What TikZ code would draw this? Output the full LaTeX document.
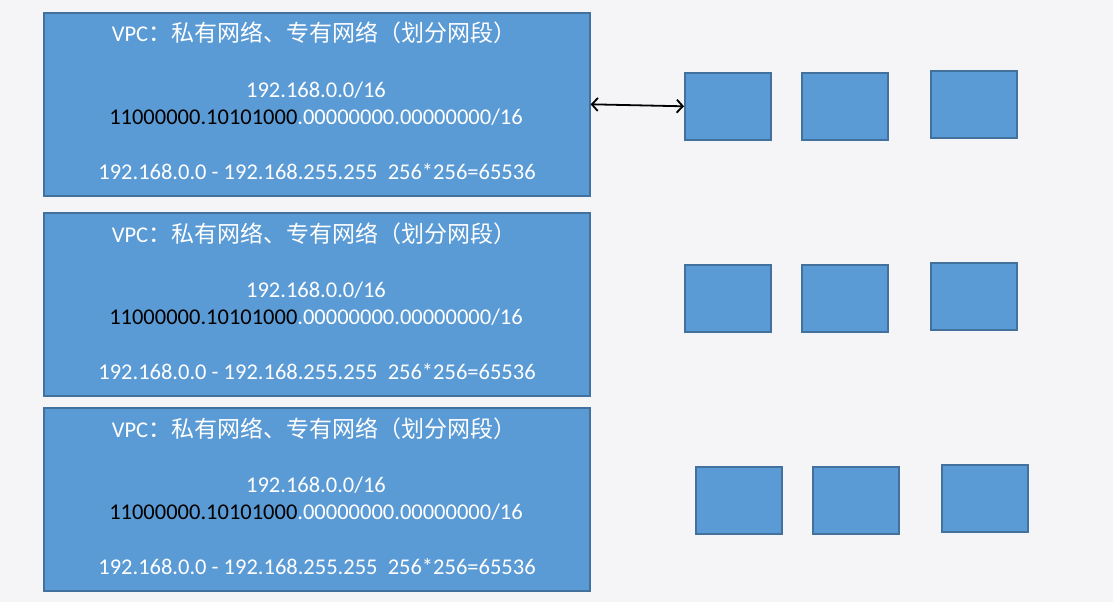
\documentclass[tikz,border=0pt]{standalone}
\usepackage{fontspec}
\setmainfont{Carlito}
\newfontfamily\cjk{Noto Sans CJK SC}
\usetikzlibrary{arrows.meta}
\definecolor{vpcfill}{RGB}{91,155,213}
\definecolor{vpcedge}{RGB}{65,113,156}
\definecolor{slide}{RGB}{245,245,247}

\begin{document}
\begin{tikzpicture}
    [ x=1pt, y=-1pt,
      font={\fontsize{22.5}{27}\selectfont},
      vpc/.style={draw=vpcedge, fill=vpcfill, line width=1.6pt, inner sep=0pt,
                  minimum width=546pt, minimum height=183pt, anchor=north west},
      subnet/.style={draw=vpcedge, fill=vpcfill, line width=1.6pt, inner sep=0pt,
                     minimum width=86pt, minimum height=67pt, anchor=north west},
      vpctext/.style={text=white, anchor=base, inner sep=0pt},
      link/.style={{Straight Barb[length=6pt,width=13pt]}-{Straight Barb[length=6pt,width=13pt]},
                   line width=1.8pt}
    ]
    \useasboundingbox (0, 0) rectangle (1113, 602);
    \fill[slide] (0, 0) rectangle (1113, 602);

    % VPC boxes
    \foreach \top/\n in {12/1, 212/2, 407/3} {
        \node[vpc] (vpc\n) at (43, \top) {};
        \node[vpctext] (title\n) at (314, \top + 30)
            {VPC{\cjk\fontsize{23}{27}\selectfont：私有网络、专有网络（划分网段）}};
        \node[vpctext] (cidr\n) at (316, \top + 85) {192.168.0.0/16};
        \node[vpctext] (bits\n) at (316, \top + 112)
            {\textcolor{black}{11000000.10101000}.00000000.00000000/16};
        \node[vpctext] (range\n) at (317, \top + 167)
            {192.168.0.0 - 192.168.255.255\ \ 256*256=65536};
    }

    % Subnets
    \foreach \row/\top/\dx in {1/72/0, 2/264/0, 3/466/11} {
        \foreach \col/\left/\dy in {1/684/0, 2/801/0, 3/930/-2} {
            \node[subnet] (net\row\col) at (\left + \dx, \top + \dy) {};
        }
    }

    \draw[link] (vpc1.east) -- (net11.west);
\end{tikzpicture}
\end{document}
